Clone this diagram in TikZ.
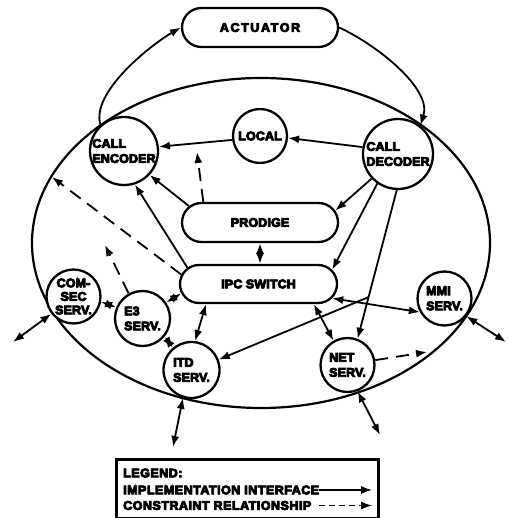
\documentclass[tikz,border=0pt]{standalone}
\usepackage{fontspec}
\usetikzlibrary{shapes.misc,shapes.geometric,arrows.meta,calc}
\newfontfamily\lblfont{Liberation Sans Bold}[FakeBold=7, LetterSpace=1]
\newcommand\diagfont{\lblfont\fontsize{12.5}{15}\selectfont}
\tikzset{
  svc/.style={circle, draw, fill=white, line width=2.3pt, inner sep=0pt},
  txt/.style={font=\diagfont, align=left, inner sep=0pt},
  legtxt/.style={txt, font=\diagfont\addfontfeature{LetterSpace=4}},
  bar/.style={rounded rectangle, draw, fill=white, line width=2.3pt,
    minimum width=156pt, minimum height=39pt, inner sep=0pt, font=\diagfont},
  tip/.tip={Latex[length=11pt,width=8pt]},
  conn/.style={line width=1.8pt, -tip},
  biconn/.style={line width=1.8pt, tip-tip},
  cons/.style={conn, dash pattern=on 13pt off 8pt},
}
\begin{document}
\begin{tikzpicture}[x=1pt,y=-1pt]
\useasboundingbox (0,0) rectangle (508,518);

% system boundary
\node[ellipse, draw, line width=2.2pt, minimum width=458pt, minimum height=330pt,
  inner sep=0pt] (sys) at (261,243) {};

% processes
\node[bar] (act) at (260,27.5) {\addfontfeature{LetterSpace=13}ACTUATOR};
\node[bar] (pro) at (260,222.5) {PRODIGE};
\node[bar, minimum width=157pt, minimum height=38pt] (ipc) at (258.5,284) {IPC SWITCH};

\node[svc, minimum size=68pt, label={[txt]center:CALL\\ENCODER}] (enc) at (124,151) {};
\node[svc, minimum size=54pt, label={[txt]center:LOCAL}] (loc) at (260,136) {};
\node[svc, minimum size=70pt, label={[txt]center:CALL\\DECODER}] (dec) at (398,154) {};
\node[svc, minimum size=54pt, label={[txt, align=center, font=\lblfont\fontsize{12.5}{13.5}\selectfont]center:COM-\\SEC\\SERV.}] (com) at (73.5,296.5) {};
\node[svc, minimum size=55pt, label={[txt]center:E3\\SERV.}] (e3) at (142.5,318.5) {};
\node[svc, minimum size=56pt, label={[txt]center:ITD\\SERV.}] (itd) at (191.5,370) {};
\node[svc, minimum size=54pt, label={[txt]center:NET\\SERV.}] (net) at (347.5,365) {};
\node[svc, minimum size=54pt, label={[txt]center:MMI\\SERV.}] (mmi) at (444.5,298.5) {};

% free ends of connectors
\coordinate (ifaceMid) at (197,152);
\coordinate (leftRim) at (52,177);
\coordinate (e3Up) at (105,245);
\coordinate (netRim) at (427,352);
\coordinate (comOut) at (13,342);
\coordinate (itdOut) at (173,447);
\coordinate (netOut) at (380,435);
\coordinate (mmiOut) at (506,342);
\coordinate (fork) at ($(dec.268)!0.72!(net.69)$);

% actuator loop
\draw[conn] (enc.132) .. controls +(-10,-32) and +(-31,18) .. (act.west);
\draw[conn] (act.east) .. controls +(37,17) and +(12,-37) .. (dec.52);

% implementation interfaces
\draw[conn] (dec.169) -- (loc.-4);
\draw[conn] (loc.188) -- (enc.7);
\draw[conn] (pro.167) -- (enc.-43);
\draw[conn] (ipc.167) -- (enc.-72);
\draw[conn] (dec.223) -- (pro.9);
\draw[conn] (dec.235) -- (ipc.11);
\draw[conn] (dec.268) -- (net.69);
\draw[conn] (fork) -- (itd.21);
\draw[biconn] (pro.south) -- (pro.south |- ipc.north);
\draw[biconn] (ipc.187) -- (e3.34);
\draw[biconn] (e3.157) -- (com.-11);
\draw[biconn] (e3.-39) -- (itd.130);
\draw[biconn] (ipc.201) -- (itd.83);
\draw[biconn] (ipc.-20) -- (net.120);
\draw[biconn] (ipc.-11.5) -- (mmi.209);
\draw[biconn] (com.218) -- (comOut);
\draw[biconn] (itd.253) -- (itdOut);
\draw[biconn] (net.-69) -- (netOut);
\draw[biconn] (mmi.-39) -- (mmiOut);

% constraint relationships
\draw[cons] (pro.160) -- (ifaceMid);
\draw[cons] (ipc.173) -- (leftRim);
\draw[cons] (e3.119) -- (e3Up);
\draw[cons] (net.10) -- (netRim);

% legend
\node[draw, line width=2.5pt, minimum width=262pt, minimum height=59pt,
  inner sep=0pt, anchor=north west] (legend) at (115,458) {};
\node[legtxt, anchor=west] (lgTitle) at (123,473) {LEGEND:};
\node[legtxt, anchor=west] (lgImpl) at (123,490) {IMPLEMENTATION INTERFACE};
\node[legtxt, anchor=west] (lgCons) at (123,505.5) {CONSTRAINT RELATIONSHIP};
\coordinate (lgImplEnd) at (372,490);
\coordinate (lgConsEnd) at (372,505.5);
\draw[line width=1.4pt, -tip] (lgImpl.east) -- (lgImplEnd);
\draw[line width=1.4pt, -tip, dash pattern=on 6pt off 4pt]
  (lgConsEnd -| lgImpl.east) -- (lgConsEnd);
\end{tikzpicture}
\end{document}
